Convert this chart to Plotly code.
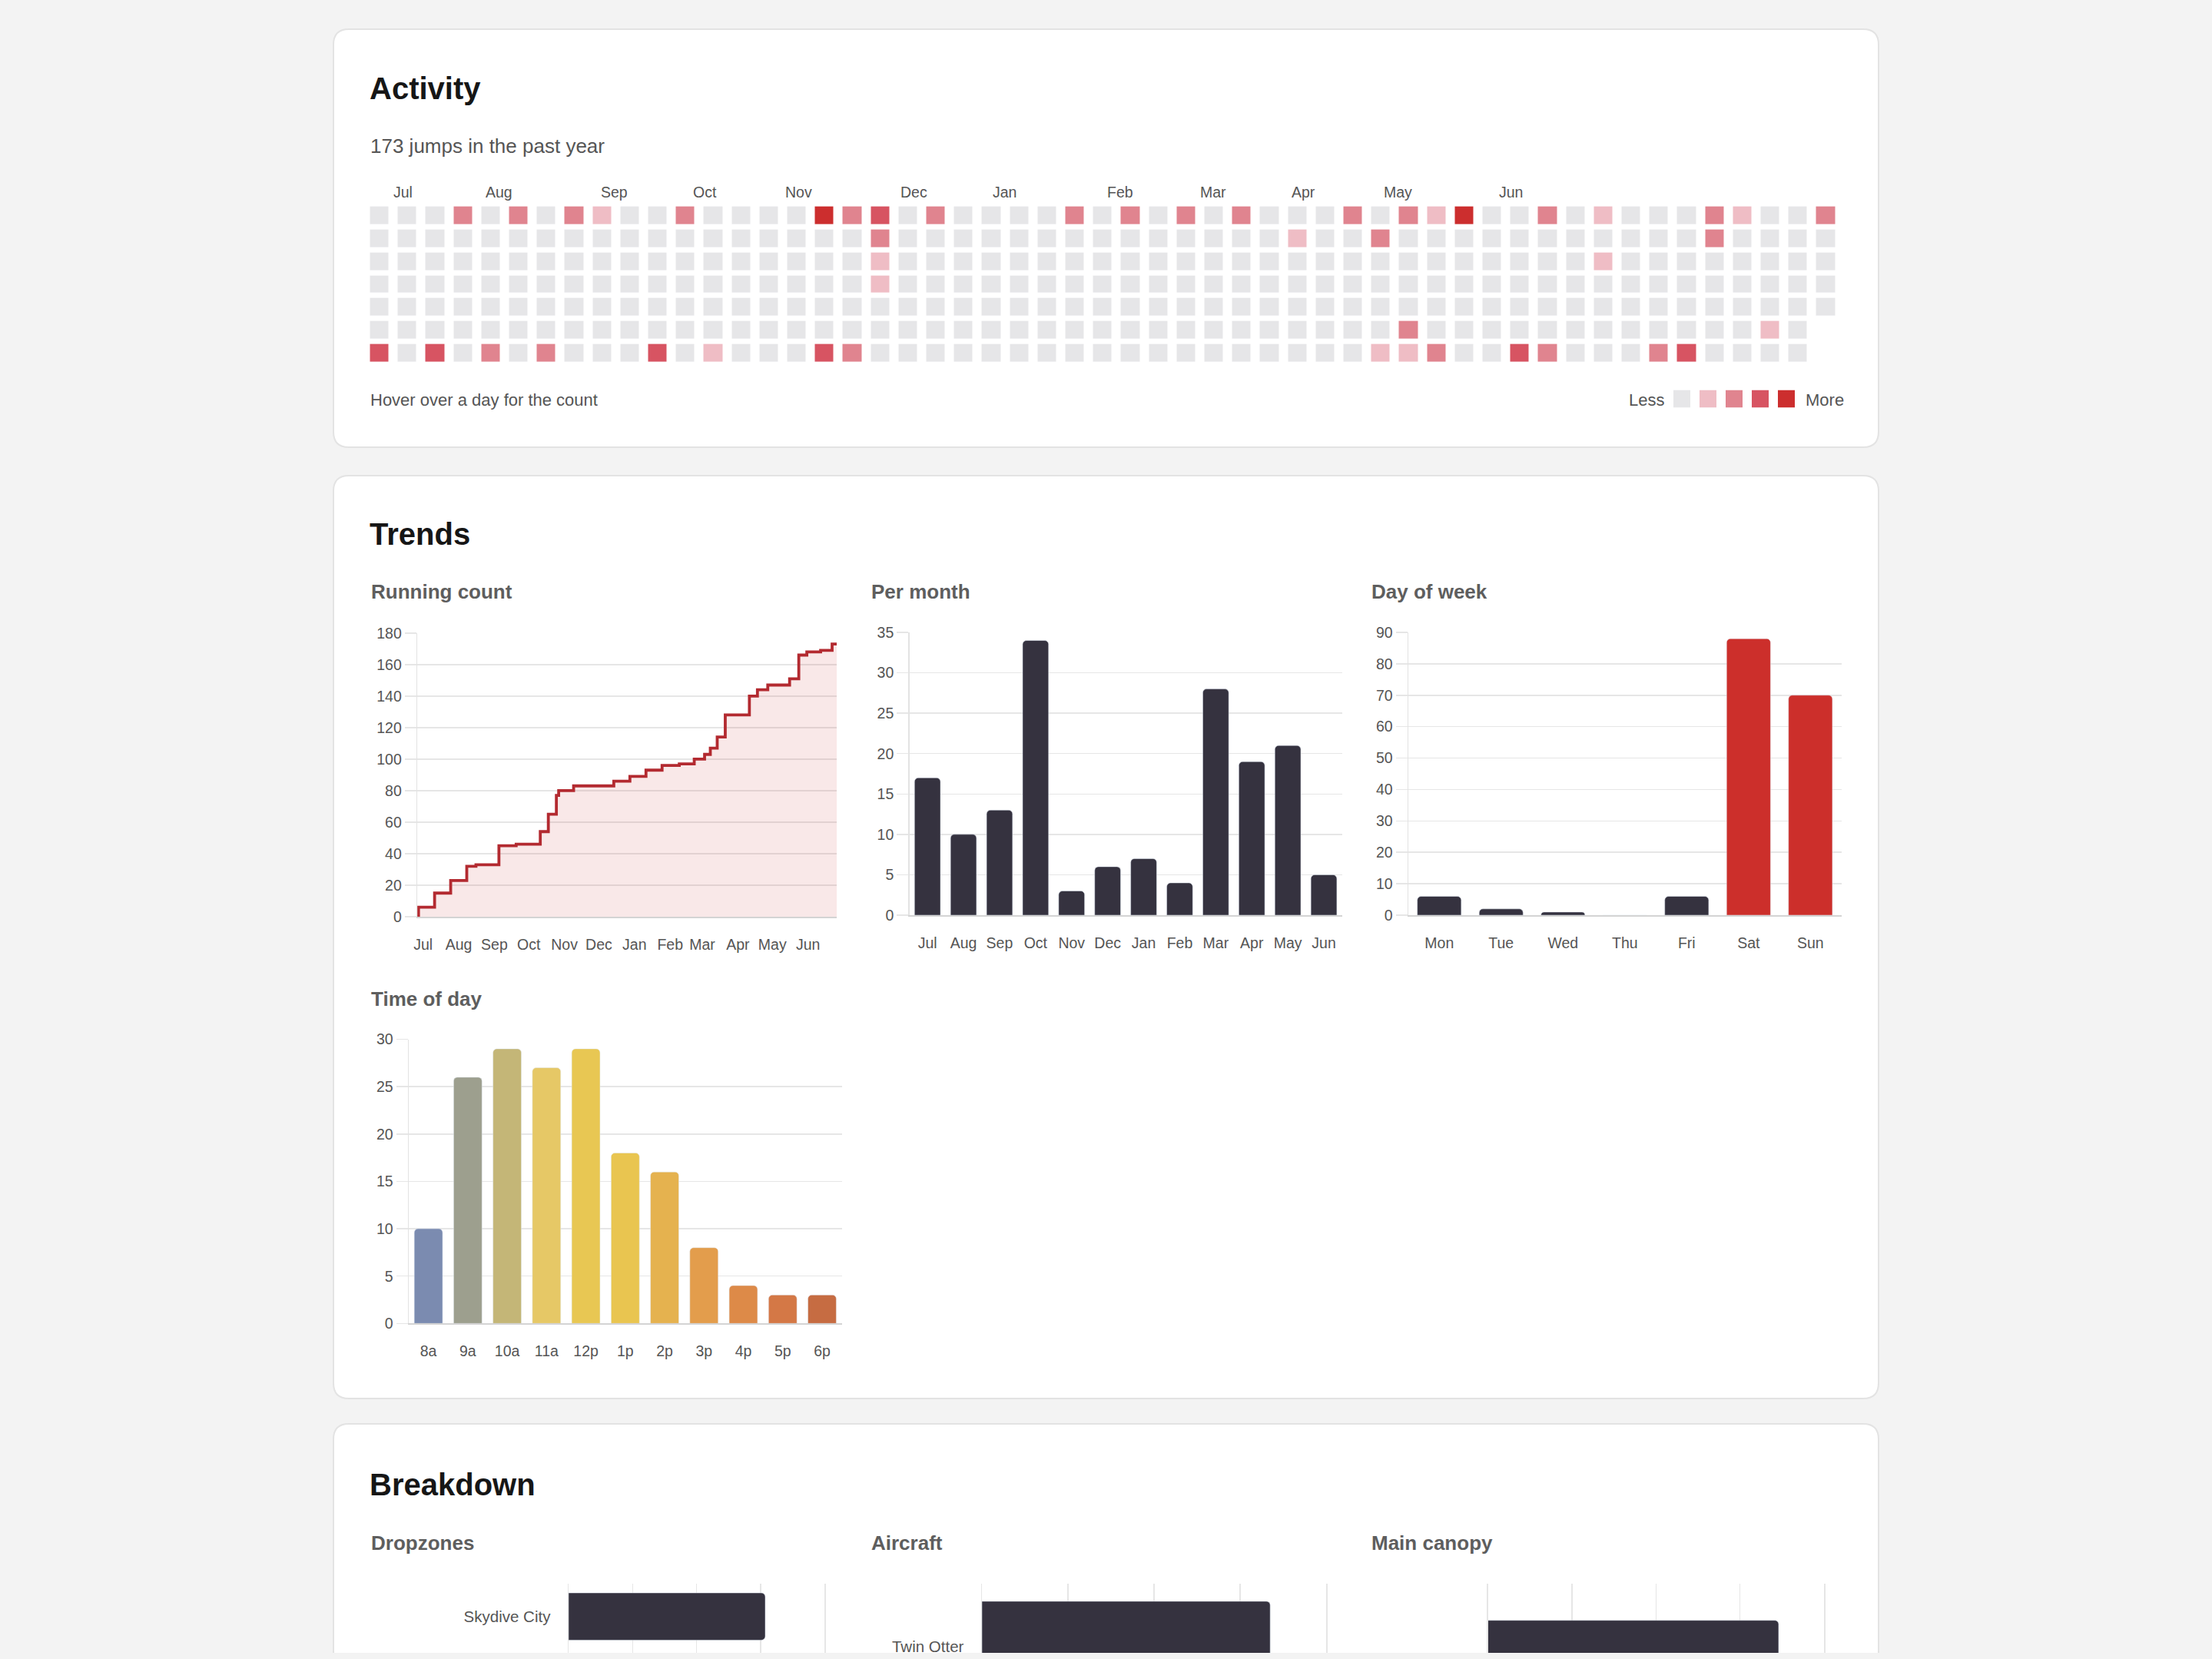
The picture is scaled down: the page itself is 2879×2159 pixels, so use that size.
import plotly.graph_objects as go

PAGE_W, PAGE_H = 2879, 2159
BODY_MARGIN = 8
W, H = PAGE_W - 2 * BODY_MARGIN, PAGE_H - 2 * BODY_MARGIN

# ---------------- DATA ----------------
# Activity heatmap: (week column, weekday row [0=Sun], intensity level 1-4)
heat_weeks = [0, 2, 3, 4, 5, 6, 7, 8, 10, 11, 12, 16, 16, 17, 17, 18, 18, 18, 18, 20,
              25, 27, 29, 31, 33, 35, 36, 36, 37, 37, 37, 38, 38, 39, 41, 42, 42, 44, 44,
              46, 47, 48, 48, 49, 50, 52]
heat_days = [6, 6, 0, 6, 0, 6, 0, 0, 6, 0, 6, 0, 6, 0, 6, 0, 1, 2, 3, 0,
             0, 0, 0, 0, 1, 0, 1, 6, 0, 5, 6, 0, 6, 0, 6, 0, 6, 0, 2,
             6, 6, 0, 1, 0, 5, 0]
heat_levels = [3, 3, 2, 2, 2, 2, 2, 1, 3, 2, 1, 4, 3, 2, 2, 3, 2, 1, 1, 2,
               2, 2, 2, 2, 1, 2, 2, 1, 2, 2, 1, 1, 2, 4, 3, 2, 2, 1, 1,
               2, 3, 2, 2, 1, 1, 2]
n_weeks = 53
last_week_days = 5
heat_month_labels = ["Jul", "Aug", "Sep", "Oct", "Nov", "Dec", "Jan", "Feb", "Mar", "Apr", "May", "Jun"]
heat_month_cols = [0.85, 4.3, 8.45, 11.7, 15.08, 19.22, 22.48, 26.65, 29.97, 33.22, 36.63, 40.68]
legend_levels = [0, 1, 2, 3, 4]

# Running count (stepped cumulative total)
run_dates = ["2024-06-26", "2024-06-27", "2024-07-11", "2024-07-25", "2024-08-08", "2024-08-16",
             "2024-09-05", "2024-09-20", "2024-10-11", "2024-10-18", "2024-10-25", "2024-10-27",
             "2024-11-09", "2024-12-14", "2024-12-28", "2025-01-11", "2025-01-25", "2025-02-09",
             "2025-02-22", "2025-03-03", "2025-03-08", "2025-03-14", "2025-03-21", "2025-04-11",
             "2025-04-18", "2025-04-27", "2025-05-16", "2025-05-24", "2025-05-31", "2025-06-12",
             "2025-06-22", "2025-06-26"]
run_counts = [0, 6, 15, 23, 32, 33, 45, 46, 54, 65, 77, 80, 83, 86, 89, 93, 96, 97,
              100, 103, 107, 114, 128, 140, 144, 147, 151, 166, 168, 169, 173, 173]
run_range = ["2024-06-26", "2025-06-26"]

# Per month
months = ["Jul", "Aug", "Sep", "Oct", "Nov", "Dec", "Jan", "Feb", "Mar", "Apr", "May", "Jun"]
per_month = [17, 10, 13, 34, 3, 6, 7, 4, 28, 19, 21, 5]

# Day of week
weekdays = ["Mon", "Tue", "Wed", "Thu", "Fri", "Sat", "Sun"]
per_weekday = [6, 2, 1, 0, 6, 88, 70]
weekend = ["Sat", "Sun"]

# Time of day
hours = ["8a", "9a", "10a", "11a", "12p", "1p", "2p", "3p", "4p", "5p", "6p"]
per_hour = [10, 26, 29, 27, 29, 18, 16, 8, 4, 3, 3]

# Breakdown
dropzones = ["Skydive City"]
dropzone_counts = [123]
aircraft = ["Twin Otter"]
aircraft_counts = [134]
canopies = ["Canopy"]
canopy_counts = [173]

# ---------------- STYLE ----------------
FONT = "Liberation Sans, Arial, Helvetica, sans-serif"
BG = "#f3f3f3"
CARD_BORDER = "#e3e3e3"
GRID = "#e6e6e6"
DARK = "#35323f"
RED = "#cc2f2b"
TXT = "#555555"
level_colors = ["#e6e6e8", "#efbdc5", "#e0848f", "#d75462", "#cc2e2e"]
hour_colors = ["#7b8bb0", "#9d9f8e", "#c4b677", "#e6c866", "#e8c753", "#e9c550",
               "#e5b24f", "#e39d4c", "#dd8a48", "#d47846", "#c66c42"]


# page pixel -> paper coordinate (figure sits inside the default 8px body margin)
def px(x):
    return (x - BODY_MARGIN) / W


def py(y):
    return 1 - (y - BODY_MARGIN) / H


def xdom(a, b):
    return [max(0.0, px(a)), min(1.0, px(b))]


def ydom(top, bottom):
    return [max(0.0, py(bottom)), min(1.0, py(top))]


fig = go.Figure()

# ---- heatmap grid ----
z = [[0] * n_weeks for _ in range(7)]
for d in range(last_week_days, 7):
    z[d][n_weeks - 1] = None
for w, d, lv in zip(heat_weeks, heat_days, heat_levels):
    z[d][w] = lv

disc = []
for i, c in enumerate(level_colors):
    disc.append([i / 5, c])
    disc.append([(i + 1) / 5, c])

fig.add_trace(go.Heatmap(z=z, x=list(range(n_weeks)), y=list(range(7)),
                         colorscale=disc, zmin=-0.5, zmax=4.5, showscale=False,
                         xgap=12, ygap=7, xaxis="x", yaxis="y", hoverinfo="skip"))
fig.add_trace(go.Heatmap(z=[legend_levels], x=list(range(len(legend_levels))), y=[0],
                         colorscale=disc, zmin=-0.5, zmax=4.5, showscale=False,
                         xgap=12, ygap=0, xaxis="x2", yaxis="y2", hoverinfo="skip"))

# ---- running count ----
fig.add_trace(go.Scatter(x=run_dates, y=run_counts, mode="lines", line_shape="hv",
                         line=dict(color="#b32a30", width=3.8), fill="tozeroy",
                         fillcolor="rgba(204,47,47,0.11)", xaxis="x3", yaxis="y3",
                         hoverinfo="skip"))

# ---- per month ----
fig.add_trace(go.Bar(x=months, y=per_month, width=0.72, marker=dict(color=DARK, cornerradius=5),
                     xaxis="x4", yaxis="y4", hoverinfo="skip"))

# ---- day of week ----
fig.add_trace(go.Bar(x=weekdays, y=per_weekday, width=0.71,
                     marker=dict(color=[RED if d in weekend else DARK for d in weekdays],
                                 cornerradius=5),
                     xaxis="x5", yaxis="y5", hoverinfo="skip"))

# ---- time of day ----
fig.add_trace(go.Bar(x=hours, y=per_hour, width=0.72,
                     marker=dict(color=hour_colors, cornerradius=5),
                     xaxis="x6", yaxis="y6", hoverinfo="skip"))

# ---- breakdown ----
fig.add_trace(go.Bar(y=dropzones, x=dropzone_counts, orientation="h", width=0.72,
                     marker=dict(color=DARK, cornerradius=5), xaxis="x7", yaxis="y7",
                     hoverinfo="skip"))
fig.add_trace(go.Bar(y=aircraft, x=aircraft_counts, orientation="h", width=0.72,
                     marker=dict(color=DARK, cornerradius=5), xaxis="x8", yaxis="y8",
                     hoverinfo="skip"))
fig.add_trace(go.Bar(y=canopies, x=canopy_counts, orientation="h", width=0.72,
                     marker=dict(color=DARK, cornerradius=5), xaxis="x9", yaxis="y9",
                     hoverinfo="skip"))

tickfont = dict(family=FONT, size=19.5, color=TXT)
hidden = dict(showgrid=False, zeroline=False, showticklabels=False, showline=False, ticks="",
              automargin=False)

layout = dict(
    width=W, height=H, margin=dict(l=0, r=0, t=0, b=0, pad=0, autoexpand=False),
    paper_bgcolor=BG, plot_bgcolor="rgba(0,0,0,0)", showlegend=False,
    font=dict(family=FONT, color=TXT),
    # heatmap
    xaxis=dict(domain=xdom(475.5, 2394.1), range=[-0.5, n_weeks - 0.5], **hidden),
    yaxis=dict(domain=ydom(265.6, 474.5), range=[6.5, -0.5], **hidden),
    xaxis2=dict(domain=xdom(2172, 2342), range=[-0.5, 4.5], **hidden),
    yaxis2=dict(domain=ydom(507.5, 530.5), range=[-0.5, 0.5], **hidden),
)

vy = dict(showgrid=True, gridcolor=GRID, gridwidth=1.5, zeroline=False, showline=True,
          linecolor="#e3e3e3", linewidth=1.5, ticks="outside", ticklen=15, tickcolor=GRID,
          tickwidth=1.5, tickfont=tickfont, fixedrange=True, automargin=False)
vx = dict(showgrid=False, zeroline=False, showline=True, linecolor="#d4d4d4", linewidth=1.5,
          ticks="outside", ticklen=18, tickcolor="rgba(0,0,0,0)", tickfont=tickfont,
          fixedrange=True, automargin=False)

layout["xaxis3"] = dict(domain=xdom(543.2, 1089), type="date", range=run_range,
                        tick0="2024-07-01", dtick="M1", tickformat="%b", anchor="y3", **vx)
layout["yaxis3"] = dict(domain=ydom(823.8, 1193), range=[0, 180], dtick=20, anchor="x3", **vy)
layout["xaxis4"] = dict(domain=xdom(1183.7, 1746.5), range=[-0.5, 11.5], anchor="y4", **vx)
layout["yaxis4"] = dict(domain=ydom(823, 1191), range=[0, 35], dtick=5, anchor="x4", **vy)
layout["xaxis5"] = dict(domain=xdom(1833, 2396.6), range=[-0.5, 6.5], anchor="y5", **vx)
layout["yaxis5"] = dict(domain=ydom(823, 1191), range=[0, 90], dtick=10, anchor="x5", **vy)
layout["xaxis6"] = dict(domain=xdom(532, 1095.6), range=[-0.5, 10.5], anchor="y6", **vx)
layout["yaxis6"] = dict(domain=ydom(1352.6, 1722.3), range=[0, 30], dtick=5, anchor="x6", **vy)

hx = dict(showgrid=True, gridcolor=GRID, gridwidth=1.5, zeroline=False, showline=False,
          showticklabels=False, ticks="", fixedrange=True, side="bottom", automargin=False)
hy = dict(showgrid=False, zeroline=False, showline=True, mirror=True, linecolor=GRID,
          linewidth=1.5, ticks="outside", ticklen=18, tickcolor="rgba(0,0,0,0)",
          tickfont=dict(family=FONT, size=20.5, color=TXT), fixedrange=True, automargin=False)
TOP_B = 2061
vis = PAGE_H - TOP_B
layout["xaxis7"] = dict(domain=xdom(740, 1073), range=[0, 160], dtick=40, anchor="y7", **hx)
layout["yaxis7"] = dict(domain=ydom(TOP_B, PAGE_H), range=[-0.5 + vis / 93, -0.5],
                        anchor="x7", **hy)
layout["xaxis8"] = dict(domain=xdom(1278, 1726), range=[0, 160], dtick=40, anchor="y8", **hx)
layout["yaxis8"] = dict(domain=ydom(TOP_B, PAGE_H), range=[-0.5 + vis / 178, -0.5],
                        anchor="x8", **hy)
layout["xaxis9"] = dict(domain=xdom(1936.5, 2374), range=[0, 200], dtick=50, anchor="y9", **hx)
layout["yaxis9"] = dict(domain=ydom(TOP_B, PAGE_H), range=[-0.5 + vis / 371, -0.5],
                        anchor="x9", **hy)

fig.update_layout(**layout)


# ---- cards ----
def rrect(x0, y0, x1, y1, r):
    pts = [("M", (x0 + r, y0)), ("L", (x1 - r, y0)), ("Q", (x1, y0), (x1, y0 + r)),
           ("L", (x1, y1 - r)), ("Q", (x1, y1), (x1 - r, y1)), ("L", (x0 + r, y1)),
           ("Q", (x0, y1), (x0, y1 - r)), ("L", (x0, y0 + r)), ("Q", (x0, y0), (x0 + r, y0))]
    s = ""
    for p in pts:
        s += p[0] + " " + " ".join(f"{px(a):.6f},{py(b):.6f}" for a, b in p[1:]) + " "
    return s + "Z"


cards = [(434, -60, 2445, 2), (434, 38, 2445, 582), (434, 619, 2445, 1820), (434, 1853, 2445, 2260)]
shapes = []
for c in cards:
    shapes.append(dict(type="path", path=rrect(*c, 20), xref="paper", yref="paper",
                       fillcolor="white", line=dict(color=CARD_BORDER, width=2), layer="below"))
fig.update_layout(shapes=shapes)

# ---- text ----
ann = []


def text(s, x, y, size, color=TXT, bold=False, anchor="left", xref="paper"):
    ann.append(dict(text=f"<b>{s}</b>" if bold else s, x=px(x) if xref == "paper" else x,
                    y=py(y), xref=xref, yref="paper", showarrow=False, xanchor=anchor,
                    yanchor="middle", font=dict(family=FONT, size=size, color=color)))


HEAD = "#161616"
SUB = "#5e5e5e"
text("Activity", 479, 115, 40, HEAD, True)
text("173 jumps in the past year", 480, 190, 26, TXT)
for lab, col in zip(heat_month_labels, heat_month_cols):
    text(lab, col, 250, 19.5, TXT, anchor="center", xref="x")
text("Hover over a day for the count", 480, 520, 22, TXT)
text("Less", 2168, 520, 22, TXT, anchor="right")
text("More", 2348, 520, 22, TXT)
text("Trends", 479, 695, 40, HEAD, True)
text("Running count", 481, 770, 26, SUB, True)
text("Per month", 1132, 770, 26, SUB, True)
text("Day of week", 1783, 770, 26, SUB, True)
text("Time of day", 481, 1300, 26, SUB, True)
text("Breakdown", 479, 1932, 40, HEAD, True)
text("Dropzones", 481, 2008, 26, SUB, True)
text("Aircraft", 1132, 2008, 26, SUB, True)
text("Main canopy", 1783, 2008, 26, SUB, True)
fig.update_layout(annotations=ann)

fig.write_html("out.html", config={"displayModeBar": False, "staticPlot": True},
               post_script="document.body.style.background='%s';" % BG)
